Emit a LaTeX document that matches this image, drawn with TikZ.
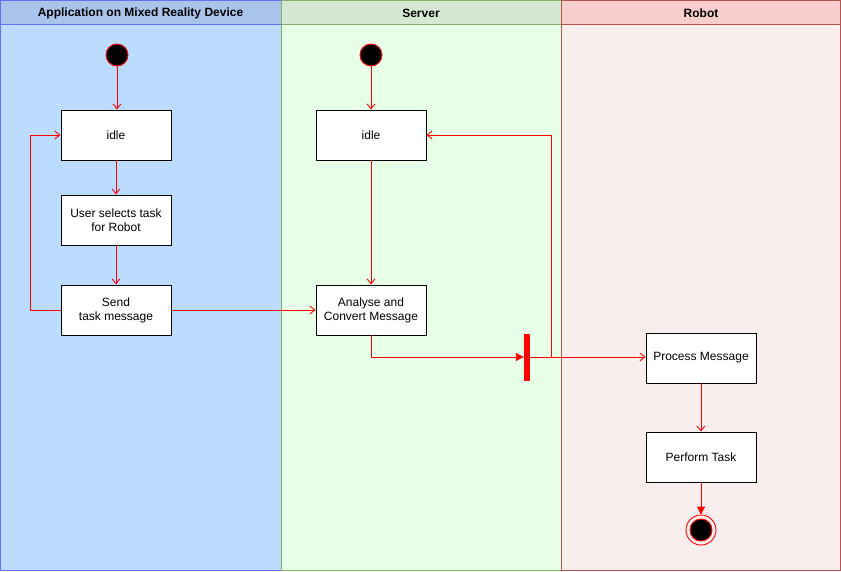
\documentclass[tikz,border=0pt]{standalone}
\usepackage{fontspec}
\setmainfont{Liberation Sans}
\usetikzlibrary{arrows.meta}
\definecolor{hdA}{HTML}{A9C4EB}
\definecolor{bdA}{HTML}{BBDCFE}
\definecolor{lnA}{HTML}{6C6CFF}
\definecolor{hdB}{HTML}{D5E8D4}
\definecolor{bdB}{HTML}{E6FFE6}
\definecolor{lnB}{HTML}{82B366}
\definecolor{hdC}{HTML}{F8CECC}
\definecolor{bdC}{HTML}{F8EEEE}
\definecolor{lnC}{HTML}{B85450}
\definecolor{flowred}{HTML}{FF0000}
\begin{document}
\begin{tikzpicture}[x=1pt,y=-1pt,
  txt/.style={font=\fontsize{12}{14}\selectfont},
  hdtxt/.style={font=\bfseries\fontsize{12}{14}\selectfont},
  box/.style={draw=black, fill=white, line width=0.9pt, minimum width=110pt, minimum height=50pt, inner sep=0pt, align=center, txt},
  startdot/.style={circle, draw=flowred, fill=black, line width=0.9pt, minimum size=22pt, inner sep=0pt},
  flow/.style={draw=flowred, line width=0.9pt, -{Straight Barb[length=5pt,width=8pt,line width=0.9pt]}},
  flowfill/.style={draw=flowred, line width=0.9pt, -{Triangle[length=8pt,width=8pt]}},
]
\useasboundingbox (0,0) rectangle (841,571);
% lanes
\fill[bdA] (0,24) rectangle (281,571);
\fill[hdA] (0,0) rectangle (281,24);
\fill[bdB] (281,24) rectangle (561,571);
\fill[hdB] (281,0) rectangle (561,24);
\fill[bdC] (561,24) rectangle (841,571);
\fill[hdC] (561,0) rectangle (841,24);
\draw[lnA, line width=1pt] (0.5,0.5) rectangle (281,570.5) (0.5,24) -- (281,24);
\draw[lnB, line width=1pt] (281,0.5) rectangle (561,570.5) (281,24) -- (561,24);
\draw[lnC, line width=1pt] (561,0.5) rectangle (840.5,570.5) (561,24) -- (840.5,24);
\node[hdtxt] (hA) at (140.5,13) {Application on Mixed Reality Device};
\node[hdtxt] (hB) at (421,13) {Server};
\node[hdtxt] (hC) at (701,13) {Robot};
% lane A
\node[startdot] (startA) at (117,55) {};
\node[box] (idleA) at (116,135) {idle};
\node[box] (userSel) at (116,220) {User selects task\\for Robot};
\node[box] (send) at (116,310) {Send\\task message};
% lane B
\node[startdot] (startB) at (371,55) {};
\node[box] (idleB) at (371,135) {idle};
\node[box] (analyse) at (371,310) {Analyse and\\Convert Message};
\node[fill=flowred, minimum width=6pt, minimum height=47pt, inner sep=0pt] (bar) at (527,357) {};
\coordinate (fork) at (551,357);
% lane C
\node[box] (proc) at (701,358) {Process Message};
\node[box] (perform) at (701,457) {Perform Task};
\node[circle, draw=flowred, fill=none, line width=0.9pt, minimum size=30pt, inner sep=0pt] (endA) at (701,530) {};
\node[circle, draw=flowred, fill=black, line width=0.9pt, minimum size=22pt, inner sep=0pt] (endB) at (701,530) {};
% connectors
\draw[flow] (startA) -- (startA |- idleA.north);
\draw[flow] (idleA) -- (userSel);
\draw[flow] (userSel) -- (send);
\draw[flow] (send.west) -- ++(-30,0) |- (idleA.west);
\draw[flow] (send) -- (analyse);
\draw[flow] (startB) -- (idleB);
\draw[flow] (idleB) -- (analyse);
\draw[flowfill] (analyse.south) |- (bar.west);
\draw[flow] (bar.east) -- (bar.east -| proc.west);
\draw[flow] (fork) |- (idleB.east);
\draw[flow] (proc) -- (perform);
\draw[flowfill] (perform) -- (endA);
\end{tikzpicture}
\end{document}
